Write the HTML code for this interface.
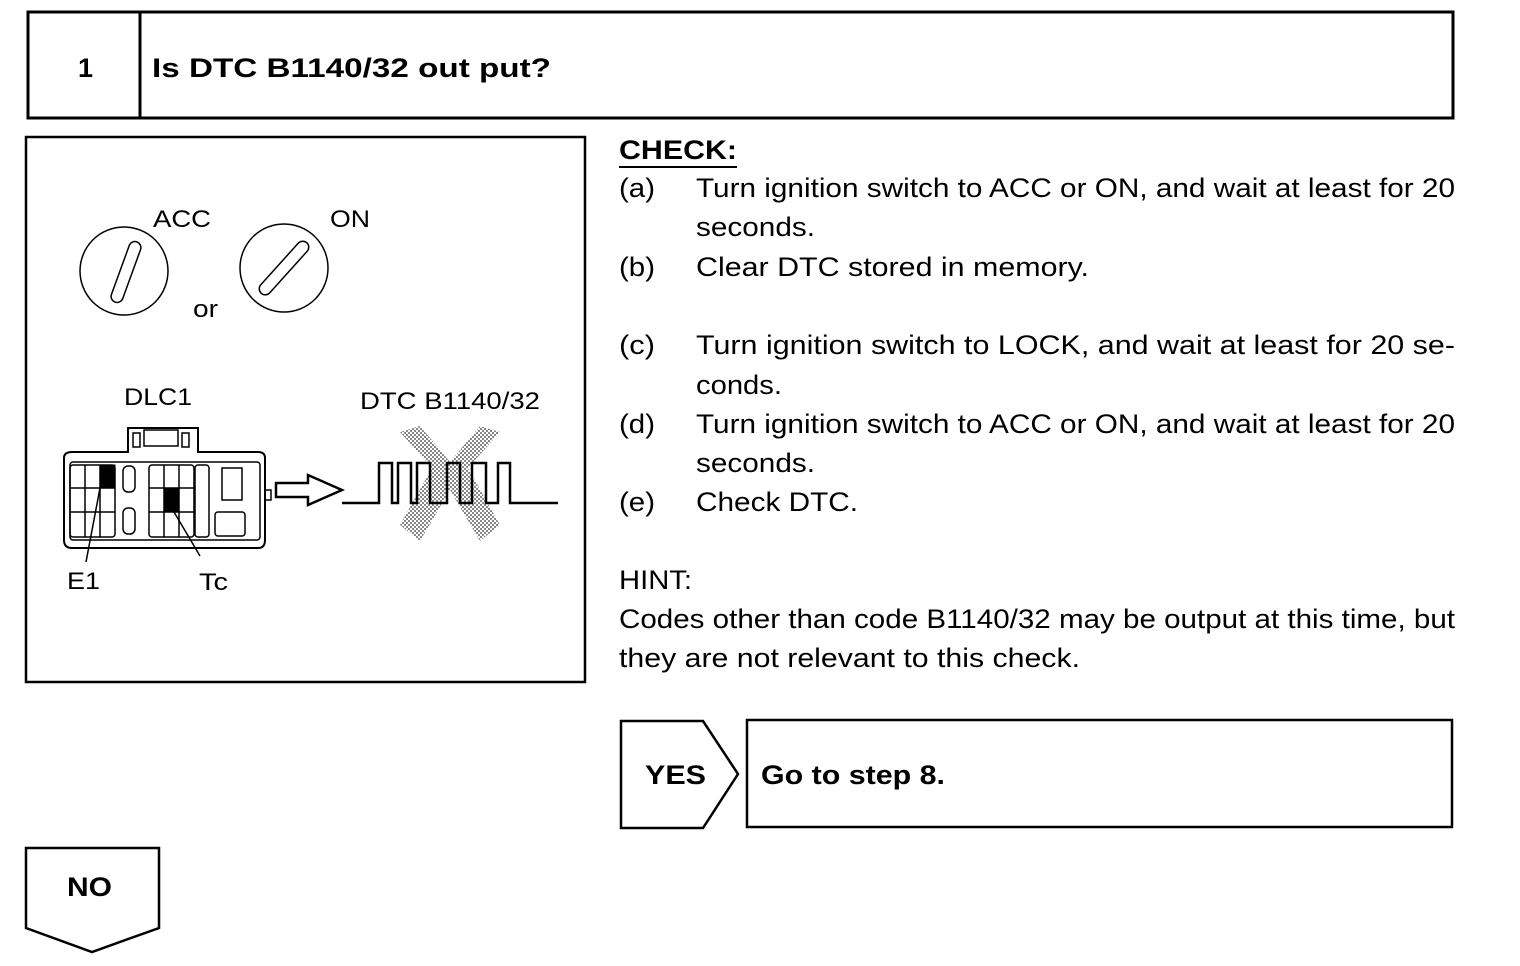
<!DOCTYPE html>
<html><head><meta charset="utf-8"><style>
html,body{margin:0;padding:0;background:#fff;}
svg{display:block;}
text{font-family:"Liberation Sans",Arial,sans-serif;fill:#000;}
.b{font-weight:bold;}
</style></head><body>
<svg width="1520" height="966" viewBox="0 0 1520 966" xmlns="http://www.w3.org/2000/svg">
<defs>
<pattern id="dots" width="4" height="4" patternUnits="userSpaceOnUse">
<rect width="4" height="4" fill="#fff"/><rect width="2" height="2" fill="#888"/><rect x="2" y="2" width="2" height="2" fill="#888"/>
</pattern>
</defs>
<g fill="none" stroke="#000">
<rect x="28" y="12" width="1425" height="106" stroke-width="3"/>
<line x1="140" y1="12" x2="140" y2="118" stroke-width="3"/>
<rect x="26" y="137" width="559" height="545" stroke-width="2.5"/>
<polygon points="621,721 703,721 738,774 703,828 621,828" stroke-width="2.5"/>
<rect x="747" y="720" width="705" height="107" stroke-width="2.5"/>
<polygon points="26,848 159,848 159,928 92,952 26,928" stroke-width="2.5"/>
<line x1="619" y1="167" x2="737" y2="167" stroke-width="2"/>
<circle cx="124" cy="271" r="44" stroke-width="1.5"/>
<rect x="120" y="240" width="12" height="64" rx="6" transform="rotate(20 126 272)" stroke-width="1.5"/>
<circle cx="284" cy="268" r="44" stroke-width="1.5"/>
<rect x="278" y="234" width="12" height="68" rx="6" transform="rotate(42 284 268)" stroke-width="1.5"/>
<path d="M64,458 L64,540 Q64,548 72,548 L258,548 Q265,548 265,540 L265,458 Q265,452 258,452 L198,452 L198,428 L128,428 L128,452 L72,452 Q64,452 64,458 Z" stroke-width="2"/>
<rect x="70" y="462" width="190" height="78" rx="3" stroke-width="1.5"/>
<rect x="144" y="430" width="34" height="16" stroke-width="1.5"/>
<rect x="133" y="433" width="7" height="14" stroke-width="1.5"/>
<rect x="182" y="433" width="7" height="14" stroke-width="1.5"/>
<g stroke-width="1.5">
<rect x="70" y="465" width="45" height="72" rx="3"/>
<line x1="85" y1="465" x2="85" y2="537"/><line x1="100" y1="465" x2="100" y2="537"/>
<line x1="70" y1="488" x2="115" y2="488"/><line x1="70" y1="512" x2="115" y2="512"/>
<rect x="123" y="466" width="12" height="26" rx="5"/>
<rect x="123" y="508" width="12" height="26" rx="5"/>
<rect x="149" y="465" width="45" height="72" rx="3"/>
<line x1="164" y1="465" x2="164" y2="537"/><line x1="179" y1="465" x2="179" y2="537"/>
<line x1="149" y1="488" x2="194" y2="488"/><line x1="149" y1="512" x2="194" y2="512"/>
<rect x="195" y="465" width="14" height="72" rx="3"/>
<rect x="215" y="512" width="30" height="24" rx="3"/>
<rect x="222" y="468" width="20" height="32"/>
<rect x="265" y="490" width="6" height="10"/>
</g>
<rect x="100" y="465" width="15" height="23" fill="#000"/>
<rect x="164" y="488" width="15" height="24" fill="#000"/>
<line x1="100" y1="488" x2="86" y2="562" stroke-width="1.5"/>
<line x1="174" y1="512" x2="200" y2="556" stroke-width="1.5"/>
<polygon points="276,483 308,483 308,475 342,490 308,505 308,497 276,497" stroke-width="2.5"/>
<polygon points="400,432 420,426 450,462 480,426 500,432 468,468 500,525 480,541 450,490 420,541 400,525 432,468" fill="url(#dots)" stroke="none"/>
<polyline points="342,503 379,503 379,463 392,463 392,503 398,503 398,463 411,463 411,503 417,503 417,463 430,463 430,503 447,503 447,463 460,463 460,503 472,503 472,463 486,463 486,503 498,503 498,463 510,463 510,503 558,503" stroke-width="2.5"/>
</g>
<g lengthAdjust="spacingAndGlyphs">
<text x="78" y="77" font-size="27" class="b">1</text>
<text x="152" y="77" font-size="27" class="b" textLength="399" lengthAdjust="spacingAndGlyphs">Is DTC B1140/32 out put?</text>
<text x="153" y="227" font-size="24" textLength="58" lengthAdjust="spacingAndGlyphs">ACC</text>
<text x="330" y="227" font-size="24" textLength="40" lengthAdjust="spacingAndGlyphs">ON</text>
<text x="193" y="317" font-size="24" textLength="25" lengthAdjust="spacingAndGlyphs">or</text>
<text x="124" y="405" font-size="24" textLength="68" lengthAdjust="spacingAndGlyphs">DLC1</text>
<text x="360" y="409" font-size="24" textLength="180" lengthAdjust="spacingAndGlyphs">DTC B1140/32</text>
<text x="67" y="589" font-size="24" textLength="33" lengthAdjust="spacingAndGlyphs">E1</text>
<text x="199" y="590" font-size="24" textLength="29" lengthAdjust="spacingAndGlyphs">Tc</text>
</g>
<g font-size="27">
<text x="619" y="159" class="b" textLength="118" lengthAdjust="spacingAndGlyphs">CHECK:</text>
<text x="619" y="197" textLength="36" lengthAdjust="spacingAndGlyphs">(a)</text><text x="696" y="197" textLength="759" lengthAdjust="spacingAndGlyphs">Turn ignition switch to ACC or ON, and wait at least for 20</text>
<text x="696" y="236" textLength="119" lengthAdjust="spacingAndGlyphs">seconds.</text>
<text x="619" y="276" textLength="36" lengthAdjust="spacingAndGlyphs">(b)</text><text x="696" y="276" textLength="393" lengthAdjust="spacingAndGlyphs">Clear DTC stored in memory.</text>
<text x="619" y="354" textLength="36" lengthAdjust="spacingAndGlyphs">(c)</text><text x="696" y="354" textLength="759" lengthAdjust="spacingAndGlyphs">Turn ignition switch to LOCK, and wait at least for 20 se-</text>
<text x="696" y="394" textLength="86" lengthAdjust="spacingAndGlyphs">conds.</text>
<text x="619" y="433" textLength="36" lengthAdjust="spacingAndGlyphs">(d)</text><text x="696" y="433" textLength="759" lengthAdjust="spacingAndGlyphs">Turn ignition switch to ACC or ON, and wait at least for 20</text>
<text x="696" y="472" textLength="119" lengthAdjust="spacingAndGlyphs">seconds.</text>
<text x="619" y="511" textLength="36" lengthAdjust="spacingAndGlyphs">(e)</text><text x="696" y="511" textLength="162" lengthAdjust="spacingAndGlyphs">Check DTC.</text>
<text x="619" y="589" textLength="73" lengthAdjust="spacingAndGlyphs">HINT:</text>
<text x="619" y="628" textLength="836" lengthAdjust="spacingAndGlyphs">Codes other than code B1140/32 may be output at this time, but</text>
<text x="619" y="667" textLength="461" lengthAdjust="spacingAndGlyphs">they are not relevant to this check.</text>
<text x="645" y="784" class="b" textLength="61" lengthAdjust="spacingAndGlyphs">YES</text>
<text x="761" y="784" class="b" textLength="184" lengthAdjust="spacingAndGlyphs">Go to step 8.</text>
<text x="67" y="896" class="b" textLength="45" lengthAdjust="spacingAndGlyphs">NO</text>
</g>
</svg>
</body></html>
